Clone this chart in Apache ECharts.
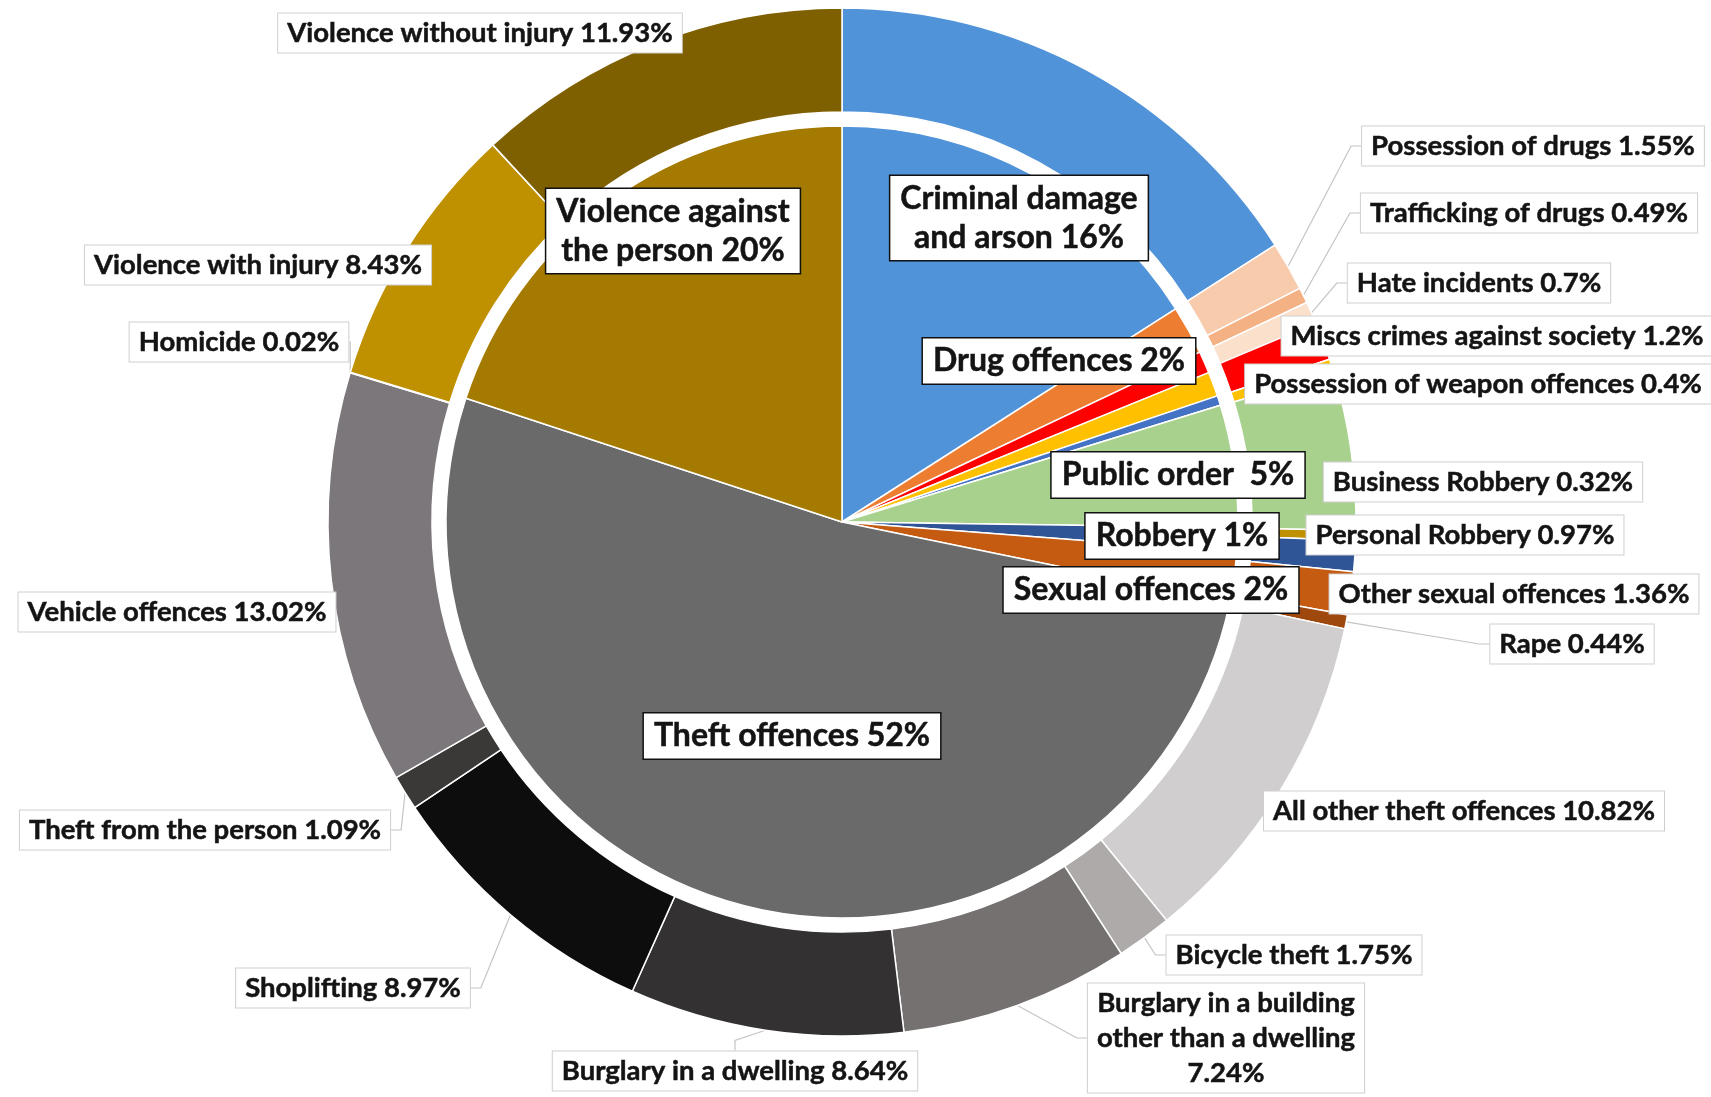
<!DOCTYPE html>
<html lang="en">
<head>
<meta charset="UTF-8">
<title>Recorded offences by type</title>
<script src="https://cdn.jsdelivr.net/npm/echarts@6/dist/echarts.min.js"></script>
<style>
  html, body { margin: 0; padding: 0; background: #fff; }
  #chart { width: 1711px; height: 1097px; }
</style>
</head>
<body>
<div id="chart"></div>
<script>
// inner pie: offence groups (% of all offences)
const groupNames = ['Criminal damage and arson', 'Drug offences', 'Hate incidents', 'Miscs crimes against society',
  'Possession of weapon offences', 'Public order', 'Robbery', 'Sexual offences', 'Theft offences', 'Violence against the person'];
const groupValues = [16, 2, 0.9, 1.0, 0.4, 5, 1, 2, 52, 20];
const groupLabels = ['Criminal damage\nand arson 16%', 'Drug offences 2%', '', '', '', 'Public order  5%',
  'Robbery 1%', 'Sexual offences 2%', 'Theft offences 52%', 'Violence against\nthe person 20%'];
const groupColors = ['#5093d9', '#ed7d31', '#ff0000', '#ffc000', '#4472c4', '#a9d18e',
  '#2f5597', '#c55a11', '#6a6a6a', '#a47a00'];

// outer ring: individual offences (% of all offences)
const offenceNames = ['Criminal damage and arson', 'Possession of drugs', 'Trafficking of drugs', 'Hate incidents',
  'Miscs crimes against society', 'Possession of weapon offences', 'Public order', 'Business Robbery',
  'Personal Robbery', 'Other sexual offences', 'Rape', 'All other theft offences', 'Bicycle theft',
  'Burglary in a building other than a dwelling', 'Burglary in a dwelling', 'Shoplifting',
  'Theft from the person', 'Vehicle offences', 'Homicide', 'Violence with injury', 'Violence without injury'];
const offenceValues = [16, 1.55, 0.49, 0.7, 1.2, 0.4, 5, 0.32, 0.97, 1.36, 0.44, 10.82, 1.75,
  7.24, 8.64, 8.97, 1.09, 13.02, 0.02, 8.43, 11.93];
const offenceLabels = ['', 'Possession of drugs 1.55%', 'Trafficking of drugs 0.49%', 'Hate incidents 0.7%',
  'Miscs crimes against society 1.2%', 'Possession of weapon offences 0.4%', '', 'Business Robbery 0.32%',
  'Personal Robbery 0.97%', 'Other sexual offences 1.36%', 'Rape 0.44%', 'All other theft offences 10.82%',
  'Bicycle theft 1.75%', 'Burglary in a building\nother than a dwelling\n7.24%', 'Burglary in a dwelling 8.64%',
  'Shoplifting 8.97%', 'Theft from the person 1.09%', 'Vehicle offences 13.02%', 'Homicide 0.02%',
  'Violence with injury 8.43%', 'Violence without injury 11.93%'];
const offenceColors = ['#5093d9', '#f8cbad', '#f4b183', '#fbe0cc', '#ff0000', '#ffc000', '#a9d18e',
  '#bf9000', '#2f5597', '#c55a11', '#9e480e', '#d0cece', '#aeaaaa', '#767171', '#333131',
  '#0d0d0d', '#3b3838', '#7b777a', '#a5a5a5', '#bf9000', '#7f6000'];

// where each label box sits (centre, px)
const innerLabelAt = { 0: [1019, 218], 1: [1059, 361], 5: [1178, 475], 6: [1182, 536],
  7: [1151, 590], 8: [792, 736], 9: [673, 231] };
const outerLabelAt = { 1: [1533, 146], 2: [1529, 213], 3: [1479, 283], 4: [1497, 336], 5: [1478, 384],
  7: [1483, 482], 8: [1465, 535], 9: [1514, 594], 10: [1572, 644], 11: [1464, 811], 12: [1294, 955],
  13: [1226, 1038], 14: [735, 1071], 15: [353, 988], 16: [205, 830], 17: [177, 612], 18: [239, 342],
  19: [258, 265], 20: [480, 33] };

const center = [842, 522];
const font = 'Lato, "Open Sans", sans-serif';

const chart = echarts.init(document.getElementById('chart'), null, { renderer: 'canvas' });

const outerData = offenceNames.map((n, i) => ({
  name: n,
  value: offenceValues[i],
  itemStyle: { color: offenceColors[i] },
  label: { show: offenceLabels[i] !== '', formatter: offenceLabels[i] },
  labelLine: { show: offenceLabels[i] !== '' }
}));

const innerData = groupNames.map((n, i) => ({
  name: n,
  value: groupValues[i],
  itemStyle: { color: groupColors[i] },
  label: { show: groupLabels[i] !== '', formatter: groupLabels[i] }
}));

function placeLabel(table) {
  return function (p) {
    const at = table[p.dataIndex];
    if (!at) return {};
    return { x: at[0], y: at[1], align: 'center', verticalAlign: 'middle' };
  };
}

chart.setOption({
  backgroundColor: '#ffffff',
  animation: false,
  series: [
    {
      name: 'Offences',
      type: 'pie',
      z: 2,
      center: center,
      radius: [410, 514],
      startAngle: 90,
      clockwise: true,
      avoidLabelOverlap: false,
      itemStyle: { borderColor: '#ffffff', borderWidth: 1.5 },
      label: {
        position: 'outside',
        color: '#141414',
        fontFamily: font,
        fontWeight: 'bold',
        fontSize: 27.5,
        lineHeight: 35,
        textBorderColor: '#141414',
        textBorderWidth: 0.5,
        backgroundColor: '#ffffff',
        borderColor: '#cfcfcf',
        borderWidth: 1,
        padding: [3, 9, 1, 9],
        align: 'center'
      },
      labelLine: {
        length: 10,
        length2: 10,
        lineStyle: { color: '#c4c4c4', width: 1.2 }
      },
      labelLayout: placeLabel(outerLabelAt),
      data: outerData
    },
    {
      name: 'Offence groups',
      type: 'pie',
      z: 3,
      center: center,
      radius: [0, 396],
      startAngle: 90,
      clockwise: true,
      avoidLabelOverlap: false,
      itemStyle: { borderColor: '#ffffff', borderWidth: 1.5 },
      label: {
        position: 'inside',
        color: '#141414',
        fontFamily: font,
        fontWeight: 'bold',
        fontSize: 32,
        lineHeight: 39,
        textBorderColor: '#141414',
        textBorderWidth: 0.5,
        backgroundColor: '#ffffff',
        borderColor: '#111',
        borderWidth: 1.5,
        padding: [4, 10, 2, 10],
        align: 'center'
      },
      labelLine: { show: false },
      labelLayout: placeLabel(innerLabelAt),
      data: innerData
    }
  ]
});

window.addEventListener('resize', function () { chart.resize(); });
</script>
</body>
</html>
